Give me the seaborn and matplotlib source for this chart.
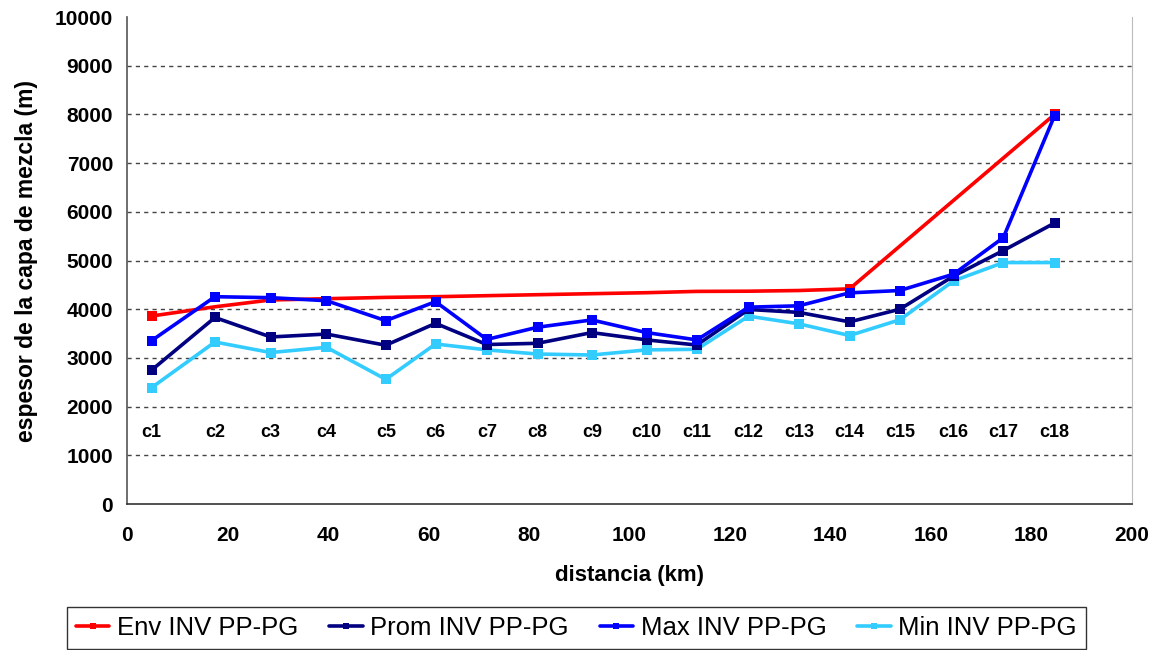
import matplotlib
matplotlib.use("Agg")
import matplotlib.pyplot as plt
from matplotlib.lines import Line2D
import seaborn as sns
import pandas as pd

# ---- data ----
stations = ["c1", "c2", "c3", "c4", "c5", "c6", "c7", "c8", "c9", "c10",
            "c11", "c12", "c13", "c14", "c15", "c16", "c17", "c18"]
distance_km = [4.9, 17.5, 28.6, 39.7, 51.5, 61.4, 71.6, 81.7, 92.5, 103.4,
               113.4, 123.7, 133.7, 143.8, 153.8, 164.5, 174.4, 184.6]
prom = [2750, 3830, 3430, 3490, 3260, 3710, 3275, 3300, 3520, 3370,
        3265, 3995, 3935, 3740, 4000, 4680, 5205, 5770]
maxv = [3355, 4257, 4237, 4175, 3765, 4155, 3380, 3630, 3780, 3520,
        3370, 4042, 4070, 4336, 4384, 4720, 5470, 7975]
minv = [2390, 3327, 3110, 3218, 2560, 3286, 3165, 3080, 3060, 3165,
        3177, 3858, 3700, 3460, 3783, 4582, 4958, 4958]
env_km = [4.9, 17.5, 28.6, 39.7, 51.5, 61.4, 71.6, 81.7, 92.5, 103.4,
          113.4, 123.7, 133.7, 143.8, 184.6]
env = [3860, 4050, 4190, 4216, 4243, 4257, 4278, 4298, 4319, 4339,
       4366, 4370, 4384, 4418, 8000]

series_names = ["Env INV PP-PG", "Prom INV PP-PG", "Max INV PP-PG", "Min INV PP-PG"]
colors = ["#FF0000", "#000080", "#0000FF", "#33CCFF"]

sns.set_theme(style="white")
plt.rcParams['font.family'] = ['Liberation Sans', 'DejaVu Sans']
plt.rcParams['text.color'] = 'black'
plt.rcParams['axes.labelcolor'] = 'black'
plt.rcParams['xtick.color'] = 'black'
plt.rcParams['ytick.color'] = 'black'

fig = plt.figure(figsize=(11.63, 6.5), dpi=100)
ax = fig.add_axes([0.1092, 0.2246, 0.8641, 0.7492])

lw = 2.6
ms = 6.5
sns.lineplot(x=env_km, y=env, ax=ax, color=colors[0], marker="s", markersize=ms,
             markeredgewidth=0, linewidth=lw, label=series_names[0],
             markevery=[0, 13, 14], estimator=None, sort=False, zorder=2)
sns.lineplot(x=distance_km, y=prom, ax=ax, color=colors[1], marker="s", markersize=ms,
             markeredgewidth=0, linewidth=lw, label=series_names[1],
             estimator=None, sort=False, zorder=4)
sns.lineplot(x=distance_km, y=maxv, ax=ax, color=colors[2], marker="s", markersize=ms,
             markeredgewidth=0, linewidth=lw, label=series_names[2],
             estimator=None, sort=False, zorder=5)
sns.lineplot(x=distance_km, y=minv, ax=ax, color=colors[3], marker="s", markersize=ms,
             markeredgewidth=0, linewidth=lw, label=series_names[3],
             estimator=None, sort=False, zorder=3)

# station labels
for name, xk in zip(stations, distance_km):
    ax.text(xk, 1460, name, ha="center", va="center", fontsize=13,
            fontweight="bold", color="black")

ax.set_xlim(0, 200)
ax.set_ylim(0, 10000)
ax.set_xticks(range(0, 201, 20))
ax.set_yticks(range(0, 10001, 1000))
for yv in range(1000, 10000, 1000):
    ax.axhline(yv, color="#444444", linestyle=(0, (3, 3)), linewidth=1.0, zorder=1)

ax.tick_params(axis="both", which="both", direction="out", length=5, width=1,
               color="#555555", labelsize=15, labelcolor="black")
ax.tick_params(axis="x", pad=11)
ax.tick_params(axis="y", pad=5)
for lab in ax.get_xticklabels() + ax.get_yticklabels():
    lab.set_fontweight("bold")

ax.spines["top"].set_visible(False)
ax.spines["right"].set_color("#BBBBBB")
ax.spines["right"].set_linewidth(0.8)
ax.spines["left"].set_color("#555555")
ax.spines["bottom"].set_color("#333333")
ax.spines["left"].set_linewidth(1.2)
ax.spines["bottom"].set_linewidth(1.2)

ax.set_xlabel("distancia (km)", fontsize=16, fontweight="bold", labelpad=14)
ax.set_ylabel("espesor de la capa de mezcla (m)", fontsize=16.5, fontweight="bold", labelpad=12)

ax.legend_.remove()
handles = [Line2D([], [], color=c, linewidth=lw, marker="s", markersize=5,
                  markeredgewidth=0) for c in colors]
leg = fig.legend(handles, series_names, loc="upper center", bbox_to_anchor=(0.4957, 0.0662),
                 ncol=4, fontsize=18.5, frameon=True, fancybox=False,
                 edgecolor="black", handlelength=1.3, handletextpad=0.3,
                 columnspacing=1.2, borderpad=0.35, borderaxespad=0)
leg.get_frame().set_linewidth(1.0)

fig.savefig("out.png", dpi=100, facecolor="white")
